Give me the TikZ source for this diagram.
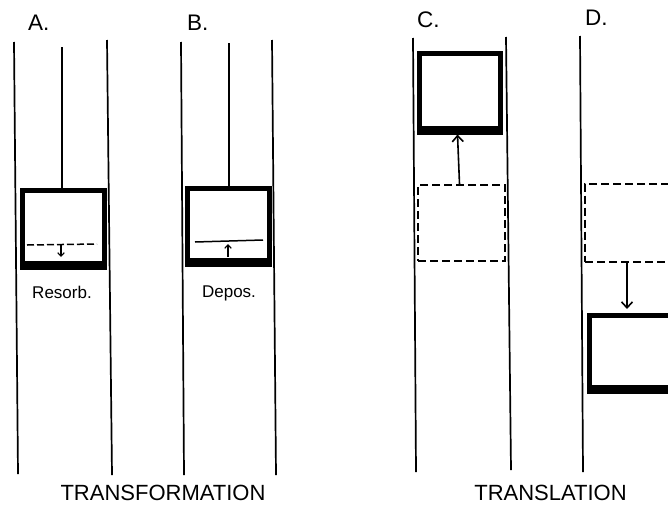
\documentclass[tikz,border=0pt]{standalone}
\usepackage{fontspec}
\setmainfont{Liberation Sans}
\usetikzlibrary{arrows.meta}
\begin{document}
\begin{tikzpicture}[x=1pt,y=-1pt,
  rail/.style={line width=1.7pt},
  thickbox/.style={draw, line width=5pt, inner sep=0pt, minimum width=82pt, minimum height=72pt},
  ghostbox/.style={draw, line width=2pt, inner sep=0pt, dash pattern=on 8pt off 4pt},
  bottombar/.style={line width=8pt},
  bigarrow/.style={line width=1.6pt, -{Straight Barb[length=6pt,width=11pt,line width=1.6pt]}},
  smallarrow/.style={line width=1.1pt, -{Straight Barb[length=3.5pt,width=6.5pt,line width=1.1pt]}},
  letter/.style={font=\fontsize{22.5}{24}\selectfont, anchor=base west, inner sep=0pt},
  title/.style={font=\fontsize{22}{24}\selectfont, anchor=base, inner sep=0pt},
  small/.style={font=\fontsize{17}{19}\selectfont, anchor=base, inner sep=0pt}]
\useasboundingbox[fill=white] (0,0) rectangle (668,506);
\clip (0,0) rectangle (668,506);

% rails
\coordinate (aL1) at (14,42);  \coordinate (aL2) at (18,474);
\coordinate (aR1) at (107,40); \coordinate (aR2) at (112,475);
\coordinate (bL1) at (181,42); \coordinate (bL2) at (184,475);
\coordinate (bR1) at (272,40); \coordinate (bR2) at (276,475);
\coordinate (cL1) at (413,38); \coordinate (cL2) at (416,472);
\coordinate (cR1) at (506,37); \coordinate (cR2) at (511,470);
\coordinate (dL1) at (580,36); \coordinate (dL2) at (583,472);
\foreach \r in {a,b,c,d} {\draw[rail] (\r L1) -- (\r L2);}
\foreach \r in {a,b,c} {\draw[rail] (\r R1) -- (\r R2);}

% A: resorption
\node[thickbox, minimum height=72.5pt] (boxA) at (63.5,226.75) {};
\draw[bottombar] (boxA.south west) -- (boxA.south east);
\coordinate (aTop) at (62,47);
\draw[line width=1.5pt] (aTop) -- (aTop |- boxA.north);
\coordinate (aDash1) at (27,245); \coordinate (aDash2) at (97,244);
\draw[line width=1.5pt, dash pattern=on 7pt off 3pt] (aDash1) -- (aDash2);
\coordinate (aArr1) at (61,245); \coordinate (aArr2) at (61,257);
\draw[smallarrow] (aArr1) -- (aArr2);
\node[small] (resorb) at (62,298) {Resorb.};

% B: deposition
\node[thickbox, minimum height=71.5pt] (boxB) at (228.5,224.25) {};
\draw[bottombar] (boxB.south west) -- (boxB.south east);
\coordinate (bTop) at (229,43);
\draw[line width=1.5pt] (bTop) -- (bTop |- boxB.north);
\coordinate (bLine1) at (195,242); \coordinate (bLine2) at (263,240);
\draw[line width=1.5pt] (bLine1) -- (bLine2);
\coordinate (bArr1) at (228,257); \coordinate (bArr2) at (228,244);
\draw[smallarrow] (bArr1) -- (bArr2);
\node[small] (depos) at (229,297) {Depos.};

% C: translation upward
\node[thickbox, minimum width=81pt, minimum height=74.5pt] (boxC) at (460,90.75) {};
\draw[bottombar] (boxC.south west) -- (boxC.south east);
\node[ghostbox, minimum width=87pt, minimum height=76pt] (ghostC) at (461.5,223) {};
\draw[bigarrow] ([xshift=-2pt]ghostC.north) -- ([xshift=-2.5pt,yshift=-4pt]boxC.south);

% D: translation downward
\node[ghostbox, minimum width=87pt, minimum height=78pt] (ghostD) at (628.5,222.5) {};
\node[thickbox, minimum width=82pt, minimum height=71.5pt] (boxD) at (630.5,351.25) {};
\draw[bottombar] (boxD.south west) -- (boxD.south east);
\draw[bigarrow] ([xshift=-1.5pt]ghostD.south) -- ([xshift=-3.5pt,yshift=4pt]boxD.north);

% labels
\node[letter] (labA) at (28,30) {A.};
\node[letter] (labB) at (187,30) {B.};
\node[letter] (labC) at (417,27) {C.};
\node[letter] (labD) at (585,25) {D.};
\node[title] (transf) at (163,500.5) {TRANSFORMATION};
\node[title] (transl) at (550.5,500.5) {TRANSLATION};
\end{tikzpicture}
\end{document}
